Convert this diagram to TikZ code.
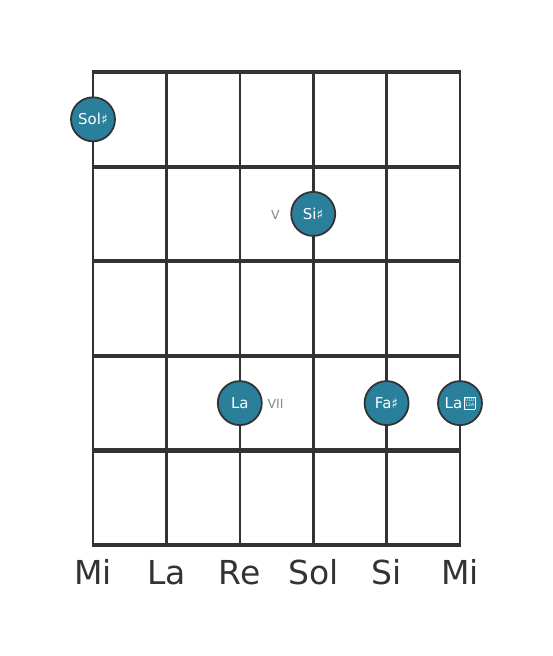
\documentclass[tikz,border=0pt]{standalone}
\usepackage{fontspec}
\setmainfont{DejaVu Sans}
\definecolor{gridc}{HTML}{333333}
\definecolor{dotc}{HTML}{2A7F9A}
\definecolor{lblc}{HTML}{888888}
\tikzset{
  stringline/.style={draw=gridc,line width=2.6pt},
  fretline/.style={draw=gridc,line width=4.2pt},
  note/.style={circle,draw=gridc,line width=1.8pt,fill=dotc,minimum size=44pt,inner sep=0pt,text=white,font=\fontsize{15}{15}\selectfont},
  fretlbl/.style={text=lblc,font=\fontsize{12.5}{12.5}\selectfont,inner sep=0pt},
  strlbl/.style={text=gridc,font=\fontsize{33}{33}\selectfont,inner sep=0pt,anchor=base}
}
\newcommand{\shp}{{\fontsize{14}{14}\selectfont\raisebox{0.2pt}{♯}}}
\newcommand{\dblshp}{\raisebox{4.3pt}{\fboxsep=0.4pt\fboxrule=0.45pt\fbox{\fontsize{4.6}{5.2}\selectfont\begin{tabular}{@{}c@{}}01D\\12A\end{tabular}}}}
\begin{document}
\begin{tikzpicture}[x=1pt,y=-1pt]
\useasboundingbox (0,0) rectangle (553,656);
% strings
\foreach \i/\x in {1/93,2/166.4,3/239.8,4/313.2,5/386.6,6/460}{
  \coordinate (st\i) at (\x,72);
  \coordinate (sb\i) at (\x,545);
  \draw[stringline] (st\i) -- (sb\i);
}
% frets
\foreach \j/\y in {0/72,1/166.6,2/261.2,3/355.8,4/450.4,5/545}{
  \coordinate (fl\j) at (91.7,\y);
  \coordinate (fr\j) at (461.3,\y);
  \draw[fretline] (fl\j) -- (fr\j);
}
% notes
\node[note] (n1) at (93,119.3) {Sol\shp};
\node[note] (n2) at (313.2,213.9) {Si\shp};
\node[note] (n3) at (239.8,403.1) {La};
\node[note] (n4) at (386.6,403.1) {Fa\shp};
\node[note] (n5) at (460,403.1) {La\kern2pt\dblshp};
% fret labels
\node[fretlbl] (l5) at (275.5,214.5) {V};
\node[fretlbl] (l7) at (275.5,404) {VII};
% string labels
\foreach \i/\x/\t in {1/93/Mi,2/166.4/La,3/239.8/Re,4/313.2/Sol,5/386.6/Si,6/460/Mi}{
  \node[strlbl] (s\i) at (\x,584.5) {\t};
}
\end{tikzpicture}
\end{document}
